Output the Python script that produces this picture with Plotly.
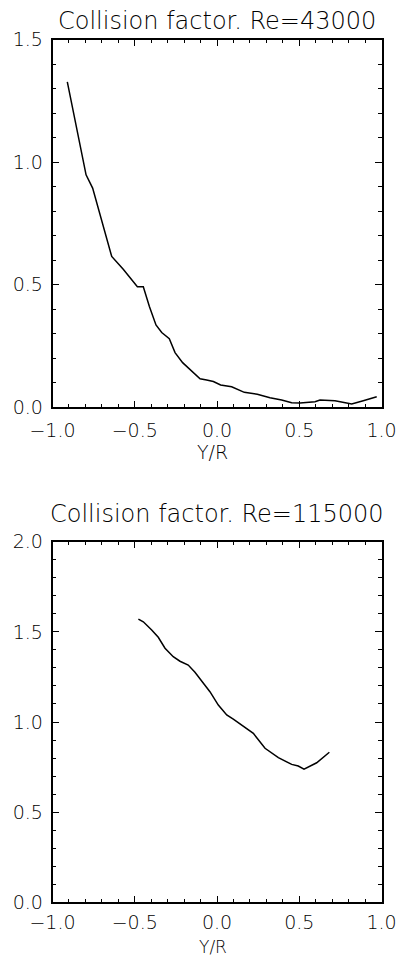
import plotly.graph_objects as go

# Data: Re=43000
x1 = [-0.910, -0.853, -0.796, -0.756, -0.711, -0.640, -0.570, -0.484, -0.448, -0.411,
      -0.371, -0.336, -0.290, -0.255, -0.209, -0.144, -0.103, -0.063, -0.022, 0.022,
      0.089, 0.166, 0.245, 0.322, 0.393, 0.454, 0.505, 0.596, 0.626, 0.717,
      0.778, 0.819, 0.889, 0.971]
y1 = [1.327, 1.139, 0.948, 0.894, 0.785, 0.615, 0.563, 0.492, 0.492, 0.411,
      0.336, 0.305, 0.280, 0.223, 0.182, 0.141, 0.116, 0.111, 0.105, 0.091,
      0.084, 0.061, 0.053, 0.039, 0.030, 0.019, 0.018, 0.023, 0.030, 0.027,
      0.020, 0.014, 0.027, 0.043]

# Data: Re=115000
x2 = [-0.478, -0.448, -0.397, -0.357, -0.316, -0.266, -0.225, -0.175, -0.134, -0.083,
      -0.043, 0.008, 0.059, 0.099, 0.160, 0.221, 0.292, 0.373, 0.454, 0.494,
      0.529, 0.606, 0.683]
y2 = [1.571, 1.556, 1.510, 1.470, 1.409, 1.362, 1.337, 1.316, 1.276, 1.215,
      1.168, 1.094, 1.039, 1.016, 0.974, 0.937, 0.854, 0.802, 0.765, 0.756,
      0.739, 0.774, 0.832]

titles = ["Collision factor. Re=43000", "Collision factor. Re=115000"]
x_label = "Y/R"
x_ticks = [-1.0, -0.5, 0.0, 0.5, 1.0]
y1_ticks = [0.0, 0.5, 1.0, 1.5]
y2_ticks = [0.0, 0.5, 1.0, 1.5, 2.0]

W, H = 401, 958
FONT = "DejaVu Sans"


def fmt(v):
    return f"{v:.1f}".replace("-", "\u2212")


fig = go.Figure()
fig.add_trace(go.Scatter(x=x1, y=y1, mode="lines", line=dict(color="black", width=1.5),
                         xaxis="x", yaxis="y", showlegend=False))
fig.add_trace(go.Scatter(x=x2, y=y2, mode="lines", line=dict(color="black", width=1.5),
                         xaxis="x2", yaxis="y2", showlegend=False))


def px_x(p):
    return p / W


def px_y(p):
    return 1 - p / H


xdom = [px_x(52.5), px_x(381.5)]
tickfont = dict(family=FONT, size=19, color="black", weight=200)


def xaxis(anchor, standoff):
    return dict(domain=xdom, anchor=anchor, range=[-1, 1], tickvals=x_ticks,
                ticktext=[fmt(v) for v in x_ticks], automargin=False,
                showline=True, linecolor="black", linewidth=1.5, mirror="ticks",
                ticks="inside", ticklen=7, tickwidth=1, tickcolor="black",
                minor=dict(dtick=0.1, ticks="inside", ticklen=3.5, tickwidth=1, tickcolor="black"),
                showgrid=False, zeroline=False, tickfont=tickfont, ticklabelstandoff=standoff)


def yaxis(anchor, dom, rng, tv):
    return dict(domain=dom, anchor=anchor, range=rng, tickvals=tv,
                ticktext=[fmt(v) for v in tv], automargin=False,
                showline=True, linecolor="black", linewidth=1.5, mirror="ticks",
                ticks="inside", ticklen=7, tickwidth=1, tickcolor="black",
                minor=dict(dtick=0.1, ticks="inside", ticklen=3.5, tickwidth=1, tickcolor="black"),
                showgrid=False, zeroline=False, tickfont=tickfont, ticklabelstandoff=4)


fig.update_layout(
    template="none",
    width=W, height=H, margin=dict(l=0, r=0, t=0, b=0, pad=0),
    paper_bgcolor="white", plot_bgcolor="white",
    font=dict(family=FONT, color="black"),
    xaxis=xaxis("y", 5),
    yaxis=yaxis("x", [px_y(407.3), px_y(39.5)], [0, 1.5], y1_ticks),
    xaxis2=xaxis("y2", 2),
    yaxis2=yaxis("x2", [px_y(902.3), px_y(541.7)], [0, 2.0], y2_ticks),
)

cx = (xdom[0] + xdom[1]) / 2
ann_font = dict(family=FONT, size=24, color="black", weight=200)
lab_font = dict(family=FONT, size=19, color="black", weight=200)
lab_font2 = dict(family=FONT, size=17, color="black", weight=200)
fig.add_annotation(text=titles[0], x=cx, y=px_y(21), xref="paper", yref="paper",
                   showarrow=False, xanchor="center", yanchor="middle", font=ann_font)
fig.add_annotation(text=titles[1], x=cx, y=px_y(514), xref="paper", yref="paper",
                   showarrow=False, xanchor="center", yanchor="middle", font=ann_font)
fig.add_annotation(text=x_label, x=cx - 4 / W, y=px_y(452), xref="paper", yref="paper",
                   showarrow=False, xanchor="center", yanchor="middle", font=lab_font)
fig.add_annotation(text=x_label, x=cx - 4 / W, y=0, xref="paper", yref="paper",
                   showarrow=False, xanchor="center", yanchor="bottom", font=lab_font2,
                   borderpad=0)

fig.write_html("out.html")
